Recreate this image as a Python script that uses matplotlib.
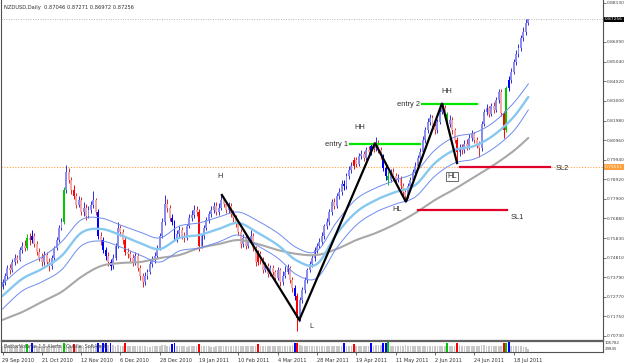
import matplotlib
matplotlib.use("Agg")
import matplotlib.pyplot as plt
from matplotlib.lines import Line2D
import numpy as np

# ---------------- data ----------------
date_labels = ['29 Sep 2010', '21 Oct 2010', '12 Nov 2010', '6 Dec 2010', '28 Dec 2010',
               '19 Jan 2011', '10 Feb 2011', '4 Mar 2011', '28 Mar 2011', '19 Apr 2011',
               '11 May 2011', '2 Jun 2011', '24 Jun 2011', '18 Jul 2011']
date_bar = [0, 16, 32, 48, 64, 80, 96, 112, 128, 144, 160, 176, 192, 208]

opens = [0.7330, 0.7355, 0.7386, 0.7428, 0.7418, 0.7459, 0.7480, 0.7470, 0.7522, 0.7543,
         0.7532, 0.7585, 0.7574, 0.7595, 0.7553, 0.7512, 0.7480, 0.7459, 0.7496, 0.7459,
         0.7439, 0.7480, 0.7532, 0.7574, 0.7637, 0.7668, 0.7835, 0.7929, 0.7887, 0.7835,
         0.7804, 0.7757, 0.7783, 0.7720, 0.7741, 0.7700, 0.7731, 0.7757, 0.7783, 0.7720,
         0.7595, 0.7574, 0.7522, 0.7491, 0.7459, 0.7439, 0.7480, 0.7543, 0.7637, 0.7616,
         0.7574, 0.7512, 0.7501, 0.7480, 0.7459, 0.7491, 0.7428, 0.7386, 0.7355, 0.7386,
         0.7407, 0.7449, 0.7470, 0.7491, 0.7532, 0.7595, 0.7668, 0.7762, 0.7741, 0.7689,
         0.7668, 0.7585, 0.7606, 0.7626, 0.7595, 0.7585, 0.7647, 0.7689, 0.7705, 0.7731,
         0.7720, 0.7543, 0.7595, 0.7637, 0.7679, 0.7710, 0.7731, 0.7752, 0.7720, 0.7741,
         0.7783, 0.7762, 0.7731, 0.7752, 0.7710, 0.7689, 0.7658, 0.7616, 0.7553, 0.7585,
         0.7543, 0.7574, 0.7595, 0.7532, 0.7459, 0.7501, 0.7470, 0.7418, 0.7439, 0.7397,
         0.7428, 0.7407, 0.7376, 0.7418, 0.7355, 0.7386, 0.7407, 0.7428, 0.7365, 0.7324,
         0.7282, 0.7167, 0.7261, 0.7313, 0.7365, 0.7418, 0.7449, 0.7480, 0.7522, 0.7543,
         0.7564, 0.7595, 0.7647, 0.7668, 0.7720, 0.7773, 0.7752, 0.7804, 0.7825, 0.7867,
         0.7856, 0.7908, 0.7940, 0.7961, 0.7992, 0.7971, 0.8013, 0.8023, 0.8002, 0.8044,
         0.8034, 0.8065, 0.8054, 0.8075, 0.8044, 0.8013, 0.7950, 0.7908, 0.7887, 0.7929,
         0.7908, 0.7887, 0.7898, 0.7856, 0.7825, 0.7804, 0.7856, 0.7887, 0.7929, 0.7961,
         0.8002, 0.8034, 0.8096, 0.8148, 0.8190, 0.8211, 0.8169, 0.8148, 0.8190, 0.8242,
         0.8263, 0.8232, 0.8180, 0.8201, 0.8148, 0.8096, 0.8034, 0.8054, 0.8044, 0.8075,
         0.8065, 0.8107, 0.8128, 0.8096, 0.8075, 0.8054, 0.8180, 0.8242, 0.8263, 0.8232,
         0.8274, 0.8253, 0.8305, 0.8347, 0.8237, 0.8148, 0.8368, 0.8410, 0.8451, 0.8503,
         0.8545, 0.8576, 0.8629, 0.8660, 0.87046]

highs = [0.7372, 0.7401, 0.7445, 0.7450, 0.7475, 0.7502, 0.7498, 0.7540, 0.7565, 0.7575,
         0.7605, 0.7610, 0.7625, 0.7612, 0.7570, 0.7530, 0.7505, 0.7515, 0.7512, 0.7478,
         0.7498, 0.7545, 0.7590, 0.7650, 0.7690, 0.7850, 0.7965, 0.7950, 0.7905, 0.7860,
         0.7820, 0.7805, 0.7800, 0.7770, 0.7760, 0.7750, 0.7780, 0.7830, 0.7795, 0.7735,
         0.7615, 0.7590, 0.7540, 0.7510, 0.7475, 0.7500, 0.7560, 0.7668, 0.7655, 0.7630,
         0.7590, 0.7530, 0.7515, 0.7500, 0.7510, 0.7505, 0.7445, 0.7400, 0.7405, 0.7425,
         0.7465, 0.7490, 0.7510, 0.7550, 0.7612, 0.7690, 0.7810, 0.7790, 0.7755, 0.7710,
         0.7680, 0.7625, 0.7645, 0.7640, 0.7615, 0.7660, 0.7710, 0.7730, 0.7755, 0.7750,
         0.7735, 0.7610, 0.7650, 0.7695, 0.7725, 0.7750, 0.7770, 0.7775, 0.7765, 0.7810,
         0.7800, 0.7780, 0.7770, 0.7765, 0.7730, 0.7705, 0.7675, 0.7630, 0.7605, 0.7600,
         0.7595, 0.7625, 0.7610, 0.7545, 0.7520, 0.7515, 0.7485, 0.7460, 0.7455, 0.7445,
         0.7445, 0.7420, 0.7435, 0.7430, 0.7410, 0.7440, 0.7450, 0.7440, 0.7380, 0.7340,
         0.7295, 0.7275, 0.7330, 0.7380, 0.7430, 0.7465, 0.7500, 0.7540, 0.7560, 0.7585,
         0.7615, 0.7660, 0.7690, 0.7735, 0.7790, 0.7795, 0.7820, 0.7845, 0.7885, 0.7890,
         0.7925, 0.7960, 0.7980, 0.8010, 0.8010, 0.8030, 0.8045, 0.8040, 0.8060, 0.8065,
         0.8080, 0.8085, 0.8110, 0.8095, 0.8060, 0.8025, 0.7965, 0.7935, 0.7945, 0.7950,
         0.7925, 0.7920, 0.7910, 0.7870, 0.7840, 0.7870, 0.7905, 0.7945, 0.7980, 0.8020,
         0.8055, 0.8115, 0.8165, 0.8210, 0.8230, 0.8225, 0.8185, 0.8205, 0.8260, 0.8290,
         0.8280, 0.8245, 0.8225, 0.8215, 0.8160, 0.8110, 0.8075, 0.8075, 0.8095, 0.8100,
         0.8125, 0.8150, 0.8140, 0.8110, 0.8090, 0.8195, 0.8260, 0.8285, 0.8275, 0.8290,
         0.8295, 0.8320, 0.8365, 0.8360, 0.8250, 0.8380, 0.8430, 0.8470, 0.8520, 0.8565,
         0.8600, 0.8645, 0.8685, 0.8730, 0.87271]

lows = [0.7318, 0.7340, 0.7372, 0.7398, 0.7405, 0.7445, 0.7452, 0.7462, 0.7505, 0.7515,
        0.7520, 0.7550, 0.7560, 0.7540, 0.7495, 0.7462, 0.7440, 0.7445, 0.7440, 0.7410,
        0.7425, 0.7470, 0.7520, 0.7565, 0.7625, 0.7660, 0.7820, 0.7870, 0.7815, 0.7790,
        0.7740, 0.7745, 0.7705, 0.7700, 0.7680, 0.7690, 0.7715, 0.7740, 0.7705, 0.7580,
        0.7550, 0.7505, 0.7470, 0.7440, 0.7415, 0.7425, 0.7470, 0.7530, 0.7595, 0.7555,
        0.7495, 0.7480, 0.7460, 0.7440, 0.7445, 0.7410, 0.7365, 0.7330, 0.7340, 0.7370,
        0.7395, 0.7435, 0.7455, 0.7480, 0.7520, 0.7585, 0.7655, 0.7720, 0.7675, 0.7650,
        0.7570, 0.7565, 0.7590, 0.7580, 0.7565, 0.7575, 0.7635, 0.7675, 0.7690, 0.7700,
        0.7515, 0.7530, 0.7580, 0.7625, 0.7665, 0.7695, 0.7715, 0.7705, 0.7705, 0.7730,
        0.7745, 0.7715, 0.7715, 0.7695, 0.7670, 0.7640, 0.7600, 0.7535, 0.7540, 0.7525,
        0.7530, 0.7560, 0.7515, 0.7440, 0.7445, 0.7450, 0.7400, 0.7405, 0.7380, 0.7385,
        0.7390, 0.7360, 0.7365, 0.7335, 0.7340, 0.7375, 0.7395, 0.7350, 0.7305, 0.7260,
        0.7100, 0.7150, 0.7245, 0.7300, 0.7350, 0.7405, 0.7435, 0.7465, 0.7505, 0.7530,
        0.7550, 0.7580, 0.7630, 0.7655, 0.7705, 0.7735, 0.7740, 0.7790, 0.7810, 0.7835,
        0.7840, 0.7895, 0.7925, 0.7945, 0.7955, 0.7960, 0.7995, 0.7985, 0.7990, 0.8015,
        0.8020, 0.8035, 0.8040, 0.8030, 0.7995, 0.7935, 0.7890, 0.7860, 0.7875, 0.7890,
        0.7870, 0.7875, 0.7840, 0.7805, 0.7770, 0.7795, 0.7840, 0.7875, 0.7915, 0.7950,
        0.7990, 0.8020, 0.8080, 0.8135, 0.8175, 0.8150, 0.8130, 0.8135, 0.8180, 0.8230,
        0.8215, 0.8160, 0.8165, 0.8130, 0.8080, 0.7975, 0.8015, 0.8025, 0.8030, 0.8045,
        0.8050, 0.8090, 0.8080, 0.8055, 0.8010, 0.8040, 0.8170, 0.8225, 0.8215, 0.8220,
        0.8235, 0.8240, 0.8290, 0.8220, 0.8105, 0.8140, 0.8350, 0.8395, 0.8440, 0.8490,
        0.8530, 0.8560, 0.8615, 0.8645, 0.86972]

closes = [0.7355, 0.7386, 0.7428, 0.7418, 0.7459, 0.7480, 0.7470, 0.7522, 0.7543, 0.7532,
          0.7585, 0.7574, 0.7595, 0.7553, 0.7512, 0.7480, 0.7459, 0.7496, 0.7459, 0.7439,
          0.7480, 0.7532, 0.7574, 0.7637, 0.7668, 0.7835, 0.7929, 0.7887, 0.7835, 0.7804,
          0.7757, 0.7783, 0.7720, 0.7741, 0.7700, 0.7731, 0.7757, 0.7783, 0.7720, 0.7595,
          0.7574, 0.7522, 0.7491, 0.7459, 0.7439, 0.7480, 0.7543, 0.7637, 0.7616, 0.7574,
          0.7512, 0.7501, 0.7480, 0.7459, 0.7491, 0.7428, 0.7386, 0.7355, 0.7386, 0.7407,
          0.7449, 0.7470, 0.7491, 0.7532, 0.7595, 0.7668, 0.7762, 0.7741, 0.7689, 0.7668,
          0.7585, 0.7606, 0.7626, 0.7595, 0.7585, 0.7647, 0.7689, 0.7705, 0.7731, 0.7720,
          0.7543, 0.7595, 0.7637, 0.7679, 0.7710, 0.7731, 0.7752, 0.7720, 0.7741, 0.7783,
          0.7762, 0.7731, 0.7752, 0.7710, 0.7689, 0.7658, 0.7616, 0.7553, 0.7585, 0.7543,
          0.7574, 0.7595, 0.7532, 0.7459, 0.7501, 0.7470, 0.7418, 0.7439, 0.7397, 0.7428,
          0.7407, 0.7376, 0.7418, 0.7355, 0.7386, 0.7407, 0.7428, 0.7365, 0.7324, 0.7282,
          0.7167, 0.7261, 0.7313, 0.7365, 0.7418, 0.7449, 0.7480, 0.7522, 0.7543, 0.7564,
          0.7595, 0.7647, 0.7668, 0.7720, 0.7773, 0.7752, 0.7804, 0.7825, 0.7867, 0.7856,
          0.7908, 0.7940, 0.7961, 0.7992, 0.7971, 0.8013, 0.8023, 0.8002, 0.8044, 0.8034,
          0.8065, 0.8054, 0.8075, 0.8044, 0.8013, 0.7950, 0.7908, 0.7887, 0.7929, 0.7908,
          0.7887, 0.7898, 0.7856, 0.7825, 0.7804, 0.7856, 0.7887, 0.7929, 0.7961, 0.8002,
          0.8034, 0.8096, 0.8148, 0.8190, 0.8211, 0.8169, 0.8148, 0.8190, 0.8242, 0.8263,
          0.8232, 0.8180, 0.8201, 0.8148, 0.8096, 0.8034, 0.8054, 0.8044, 0.8075, 0.8065,
          0.8107, 0.8128, 0.8096, 0.8075, 0.8054, 0.8180, 0.8242, 0.8263, 0.8232, 0.8274,
          0.8253, 0.8305, 0.8347, 0.8237, 0.8148, 0.8368, 0.8410, 0.8451, 0.8503, 0.8545,
          0.8576, 0.8629, 0.8660, 0.8705, 0.87256]

volumes = [62, 58, 66, 60, 64, 57, 61, 68, 63, 70,
           88, 66, 90, 64, 59, 62, 67, 60, 63, 58,
           61, 65, 69, 72, 74, 92, 70, 66, 63, 85,
           60, 58, 64, 61, 57, 60, 63, 66, 62, 95,
           72, 90, 96, 74, 92, 68, 64, 70, 66, 63,
           90, 62, 58, 60, 64, 59, 63, 66, 61, 57,
           55, 58, 60, 62, 66, 68, 72, 64, 60, 88,
           94, 66, 62, 58, 60, 57, 61, 59, 62, 60,
           86, 63, 60, 58, 62, 57, 55, 60, 63, 61,
           58, 62, 60, 64, 59, 62, 66, 60, 63, 65,
           60, 62, 66, 64, 88, 62, 60, 63, 58, 61,
           60, 63, 66, 62, 60, 64, 61, 66, 70, 92,
           96, 74, 66, 63, 60, 62, 58, 61, 60, 63,
           59, 62, 60, 58, 61, 60, 63, 62, 66, 90,
           62, 60, 64, 88, 61, 63, 60, 62, 66, 64,
           90, 66, 70, 68, 72, 94, 98, 100, 66, 62,
           63, 60, 64, 66, 68, 62, 60, 58, 61, 59,
           60, 63, 62, 66, 60, 58, 61, 60, 64, 66,
           62, 92, 64, 62, 66, 90, 68, 62, 64, 60,
           61, 63, 60, 66, 64, 68, 70, 62, 60, 64,
           62, 60, 63, 66, 94, 96, 100, 66, 62, 60,
           58, 60, 57, 55, 35]

# bars highlighted by the volume indicator (b = blue, r = red, g = green)
special_idx = [10, 12, 25, 29, 39, 41, 42, 44, 50, 69, 70, 80, 104, 119, 120,
               139, 143, 150, 155, 156, 157, 181, 185, 204, 205, 206]
special_col = ['g', 'b', 'g', 'r', 'b', 'b', 'b', 'b', 'r', 'b', 'b', 'r', 'r', 'b', 'r',
               'b', 'r', 'b', 'b', 'b', 'g', 'g', 'r', 'r', 'g', 'b']

# moving-average envelope and long MA, read at every 8th bar
ma_bar = [0, 8, 16, 24, 32, 40, 48, 56, 64, 72, 80, 88, 96, 104, 112, 120, 128,
          136, 144, 152, 160, 168, 176, 184, 192, 200, 208, 214]
ma_mid = [0.7282, 0.7371, 0.7423, 0.7491, 0.7611, 0.7632, 0.7600, 0.7558, 0.7527, 0.7585,
          0.7600, 0.7632, 0.7663, 0.7611, 0.7548, 0.7465, 0.7449, 0.7606, 0.7720, 0.7783,
          0.7825, 0.7861, 0.7976, 0.8044, 0.8065, 0.8122, 0.8216, 0.8321]
ma_up = [0.7344, 0.7433, 0.7485, 0.7564, 0.7679, 0.7689, 0.7652, 0.7616, 0.7585, 0.7647,
         0.7663, 0.7694, 0.7720, 0.7673, 0.7611, 0.7532, 0.7517, 0.7668, 0.7788, 0.7846,
         0.7887, 0.7929, 0.8044, 0.8112, 0.8133, 0.8190, 0.8289, 0.8389]
ma_dn = [0.7214, 0.7308, 0.7355, 0.7418, 0.7543, 0.7569, 0.7538, 0.7496, 0.7459, 0.7517,
         0.7532, 0.7564, 0.7600, 0.7543, 0.7480, 0.7391, 0.7376, 0.7532, 0.7652, 0.7720,
         0.7762, 0.7799, 0.7908, 0.7976, 0.7997, 0.8054, 0.8143, 0.8253]
ma_long = [0.7157, 0.7198, 0.7251, 0.7303, 0.7381, 0.7438, 0.7454, 0.7459, 0.7480, 0.7496,
           0.7532, 0.7553, 0.7574, 0.7553, 0.7522, 0.7501, 0.7496, 0.7527, 0.7574, 0.7611,
           0.7658, 0.7715, 0.7783, 0.7840, 0.7903, 0.7966, 0.8039, 0.8107]

# swing structure drawn on the chart
zz_bar = [89.3, 120.8, 151.6, 164.2, 178.9, 185.0]
zz_price = [0.7809, 0.7157, 0.8081, 0.7773, 0.8289, 0.7976]
entry1 = (141.4, 169.9, 0.8075)
entry2 = (170.7, 193.1, 0.8284)
sl1 = (169.1, 205.3, 0.7731)
sl2 = (186.2, 222.8, 0.7953)

price_ticks = [0.88130, 0.86090, 0.85040, 0.84020, 0.83000, 0.81980, 0.80960, 0.79940,
               0.78920, 0.77900, 0.76880, 0.75830, 0.74810, 0.73790, 0.72770, 0.71750, 0.70730]
last_price = 0.87256
alert_price = 0.79551

# ---------------- figure ----------------
W, H = 625, 363
fig = plt.figure(figsize=(W / 100, H / 100), dpi=100)
fig.patch.set_facecolor('white')

SMALL = ['DejaVu Sans']
SANS = ['Liberation Sans', 'DejaVu Sans']

LEFT, RIGHT, TOP, PBOT = 1.5, 603.0, 1.0, 339.0
VTOP, VBOT = 342.0, 352.0
ax = fig.add_axes([LEFT / W, 1 - PBOT / H, (RIGHT - LEFT) / W, (PBOT - TOP) / H])
axv = fig.add_axes([LEFT / W, 1 - VBOT / H, (RIGHT - LEFT) / W, (VBOT - VTOP) / H])

BAR_PX = 2.457
X0 = 2.5
xlim = ((LEFT - X0) / BAR_PX, (RIGHT - X0) / BAR_PX)
PPX = 1915.5
P0 = 0.88271
ax.set_xlim(*xlim)
ax.set_ylim(P0 - PBOT / PPX, P0 - TOP / PPX)
axv.set_xlim(*xlim)
axv.set_ylim(0, 104)

for a in (ax, axv):
    for s in a.spines.values():
        s.set_visible(False)
    a.set_facecolor('none')


def smooth(xs, ys, steps=12):
    """Catmull-Rom curve through the read points (drawing only)."""
    P = np.column_stack([xs, ys]).astype(float)
    P = np.vstack([P[0], P, P[-1]])
    t = np.linspace(0, 1, steps, endpoint=False)[:, None]
    out = []
    for j in range(1, len(P) - 2):
        p0, p1, p2, p3 = P[j - 1], P[j], P[j + 1], P[j + 2]
        seg = 0.5 * ((2 * p1) + (-p0 + p2) * t + (2 * p0 - 5 * p1 + 4 * p2 - p3) * t ** 2
                     + (-p0 + 3 * p1 - 3 * p2 + p3) * t ** 3)
        out.append(seg)
    out.append(P[-2][None])
    arr = np.vstack(out)
    return arr[:, 0], arr[:, 1]


n = len(closes)
idx = np.arange(n)
o = np.array(opens)
c = np.array(closes)
hi = np.array(highs)
lo = np.array(lows)
up = c >= o

cmap = {'b': '#0000ff', 'r': '#ff0000', 'g': '#00c800'}
body_col = [('#8c8cf0' if u else '#f4a8a8') for u in up]
wick_col = [('#3030dc' if u else '#e02828') for u in up]
vol_col = ['#c8c8c8'] * n
for k, cc in zip(special_idx, special_col):
    body_col[k] = cmap[cc]
    wick_col[k] = cmap[cc]
    vol_col[k] = cmap[cc]

# reference horizontal lines
ax.axhline(last_price, color='#b4b4b4', lw=0.7, ls=(0, (1, 1.5)), zorder=1)
ax.axhline(alert_price, color='#ffa040', lw=0.8, ls=(0, (1, 1.5)), zorder=1)

# candles
ax.vlines(idx, lo, hi, colors=wick_col, lw=0.7, zorder=3)
bh = np.maximum(np.abs(c - o), 0.0004)
ax.bar(idx, bh, bottom=np.minimum(o, c), width=0.78, color=body_col, lw=0, zorder=4)

# moving averages
ax.plot(*smooth(ma_bar, ma_long), color='#a8a8a8', lw=1.5, zorder=5, solid_capstyle='round')
ax.plot(*smooth(ma_bar, ma_up), color='#6e8cf0', lw=0.7, zorder=5)
ax.plot(*smooth(ma_bar, ma_dn), color='#6e8cf0', lw=0.7, zorder=5)
ax.plot(*smooth(ma_bar, ma_mid), color='#87c8f0', lw=1.7, zorder=5, solid_capstyle='round')

# zigzag
ax.plot(zz_bar, zz_price, color='black', lw=1.6, zorder=7, solid_joinstyle='miter')

# levels
ax.plot(entry1[:2], [entry1[2]] * 2, color='#00e600', lw=1.6, zorder=6)
ax.plot(entry2[:2], [entry2[2]] * 2, color='#00e600', lw=1.6, zorder=6)
ax.plot(sl1[:2], [sl1[2]] * 2, color='#e0002a', lw=1.6, zorder=6)
ax.plot(sl2[:2], [sl2[2]] * 2, color='#e0002a', lw=1.6, zorder=6)

tk = dict(fontsize=5.4, color='#303030', family=SANS, zorder=8)
ax.text(88.5, 0.7908, 'H', ha='center', va='center', **tk)
ax.text(125.6, 0.7120, 'L', ha='center', va='center', **tk)
ax.text(145.5, 0.8159, 'HH', ha='center', va='center', **tk)
ax.text(140.6, 0.8072, 'entry 1', ha='right', va='center', **tk)
ax.text(160.6, 0.7736, 'HL', ha='center', va='center', **tk)
ax.text(169.8, 0.8284, 'entry 2', ha='right', va='center', **tk)
ax.text(180.9, 0.8347, 'HH', ha='center', va='center', **tk)
ax.text(183.0, 0.7905, 'HL', ha='center', va='center',
        bbox=dict(boxstyle='square,pad=0.15', fc='white', ec='#505050', lw=0.6), **tk)
ax.text(209.4, 0.7694, 'SL1', ha='center', va='center', **tk)
ax.text(227.8, 0.7950, 'SL2', ha='center', va='center', clip_on=False, **tk)

# right price axis
ax.yaxis.tick_right()
ax.set_yticks(price_ticks)
ax.set_yticklabels(['%.5f' % t for t in price_ticks], family=SMALL)
ax.tick_params(axis='y', length=2, width=0.5, pad=0.6, labelsize=3.15,
               colors='#404040', direction='out')
ax.set_xticks([])

ytr = ax.get_yaxis_transform()
ax.text(1.0035, last_price, '%.5f' % last_price, transform=ytr, ha='left', va='center',
        fontsize=3.15, family=SMALL, color='white', clip_on=False, zorder=10,
        bbox=dict(boxstyle='square,pad=0.2', fc='black', ec='black', lw=0))
ax.text(1.0035, alert_price, '%.5f' % alert_price, transform=ytr, ha='left', va='center',
        fontsize=3.15, family=SMALL, color='#fff4dc', clip_on=False, zorder=10,
        bbox=dict(boxstyle='square,pad=0.2', fc='#ffa040', ec='#ffa040', lw=0))

# volume panel
axv.bar(idx, volumes, width=0.7, color=vol_col, lw=0)
axv.set_yticks([])
axv.set_xticks(date_bar)
axv.set_xticklabels(date_labels, family=SMALL)
for lbl in axv.get_xticklabels():
    lbl.set_ha('left')
axv.tick_params(axis='x', length=2.5, width=0.5, pad=1.5, labelsize=3.6,
                colors='#303030', direction='out')
axv.text(0.004, 0.55, 'BetterVolume 1.5 Alerts  (Quelle: SoftAlert)', transform=axv.transAxes,
         fontsize=3.4, family=SMALL, color='#404040', va='center', ha='left')
fig.text(605 / W, 1 - 343.5 / H, '106782', fontsize=2.9, family=SMALL, color='#404040',
         va='center', ha='left')
fig.text(605 / W, 1 - 349 / H, '29845', fontsize=2.9, family=SMALL, color='#404040',
         va='center', ha='left')

# title
fig.text(3.5 / W, 1 - 7 / H, 'NZDUSD,Daily  0.87046 0.87271 0.86972 0.87256', fontsize=3.7,
         family=SMALL, color='#303030', va='center', ha='left')

# frame lines (pixel coordinates)
def hline(y, x0, x1, col='#505050', lw=0.8):
    fig.add_artist(Line2D([x0 / W, x1 / W], [1 - y / H, 1 - y / H], color=col, lw=lw))


def vline(x, y0, y1, col='#505050', lw=0.8):
    fig.add_artist(Line2D([x / W, x / W], [1 - y0 / H, 1 - y1 / H], color=col, lw=lw))


vline(LEFT, 0, VBOT)
vline(RIGHT, 0, VBOT)
hline(339.6, LEFT, RIGHT, '#606060', 0.9)
hline(341.2, LEFT, RIGHT, '#606060', 0.9)
hline(VBOT, LEFT, RIGHT)

fig.savefig('out.png', dpi=100, facecolor='white')
